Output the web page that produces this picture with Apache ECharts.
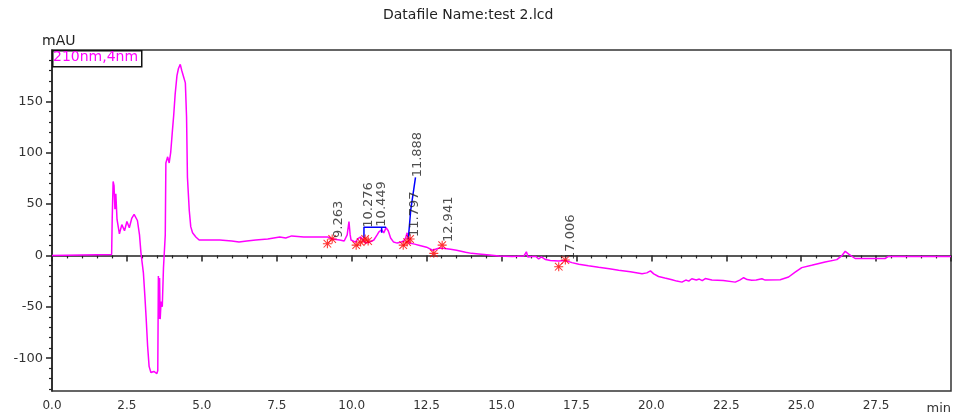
<!DOCTYPE html>
<html>
<head>
<meta charset="utf-8">
<title>Datafile Name:test 2.lcd</title>
<script src="https://cdn.jsdelivr.net/npm/echarts@6/dist/echarts.min.js"></script>
<style>
  html, body { margin: 0; padding: 0; background: #fff; }
  #chart { width: 956px; height: 419px; }
</style>
</head>
<body>
<div id="chart"></div>
<script>
// retention time (min) and detector signal (mAU)
const times = [
  0, 1.0, 1.99, 2.01, 2.04, 2.07, 2.1, 2.13, 2.17, 2.25, 2.33, 2.42, 2.5, 2.58, 2.66, 2.74, 2.85, 2.92, 2.97,
  3.05, 3.1, 3.14, 3.19, 3.24, 3.3, 3.4, 3.5, 3.53, 3.55, 3.57, 3.59, 3.61, 3.64, 3.68, 3.72, 3.78, 3.8,
  3.86, 3.91, 3.96, 4.02, 4.06, 4.11, 4.17, 4.22, 4.28, 4.33, 4.39, 4.45, 4.49, 4.52, 4.58, 4.63, 4.69,
  4.8, 4.91, 5.2, 5.6, 6.0, 6.24, 6.5, 6.8, 7.2, 7.6, 7.8, 8.0, 8.4, 8.8, 9.2, 9.35, 9.6, 9.75, 9.85,
  9.91, 9.95, 9.98, 10.13, 10.2, 10.3, 10.4, 10.47, 10.6, 10.74, 10.85, 10.91, 11.0, 11.07, 11.15, 11.22,
  11.3, 11.4, 11.52, 11.65, 11.74, 11.8, 11.85, 11.92, 12.1, 12.24, 12.5, 12.7, 12.9, 13.05, 13.3, 13.5,
  13.8, 14.0, 14.24, 14.6, 14.91, 15.35, 15.75, 15.83, 15.88, 16.0, 16.15, 16.24, 16.33, 16.47, 16.63,
  16.9, 17.13, 17.35, 17.58, 17.9, 18.24, 18.6, 18.91, 19.3, 19.69, 19.85, 19.97, 20.08, 20.24, 20.45,
  20.69, 20.85, 21.02, 21.15, 21.25, 21.35, 21.5, 21.6, 21.7, 21.8, 22.02, 22.4, 22.8, 22.95, 23.08,
  23.2, 23.35, 23.5, 23.69, 23.8, 24.3, 24.58, 24.8, 25.02, 25.35, 25.8, 26.19, 26.35, 26.47, 26.6,
  26.8, 27.8, 27.91, 29.58, 30
]
const signal = [
  0, 0.5, 1, 37, 72, 68, 45, 60, 35, 21, 30, 24, 33, 27, 36, 40, 34, 20, 2,
  -17, -40, -60, -88, -108, -114, -113, -115, -112, -20, -62, -22, -62, -45, -50, -12, 20, 90,
  96, 90, 100, 122, 136, 157, 175, 182, 186, 180, 174, 168, 135, 76, 44, 28, 22,
  18, 15, 15, 15, 14, 13, 14, 15, 16, 18, 17, 19, 18, 18, 18, 16, 15, 14, 20,
  33, 20, 15, 13, 16, 18, 14, 12, 13, 15, 20, 23, 25, 22, 27, 24,
  17, 13, 12, 13, 14, 17, 22, 12, 11, 10, 8, 5, 7, 7, 6, 5,
  3, 2, 1.5, 0.5, -0.5, -1, -0.5, 3.5, -1.5, -1, -1, -3.5, -1.5, -4, -5,
  -5.5, -5, -7, -8.5, -10, -11.5, -13, -14.5, -16, -17.8, -17, -15, -18, -20.5, -22,
  -23.6, -25, -26, -24, -25, -22.7, -24, -23, -24.5, -22.5, -24, -24.5, -26, -24, -21.7,
  -23.5, -24.2, -24, -22.7, -24, -23.6, -21, -16.2, -11.9, -9.6, -6.4, -4.1, -0.5, 4, 1,
  -3, -3, -1, -1, -1
]

// integrated peaks: retention times and the level where each label starts
const peakTimes = [9.263, 10.276, 10.449, 11.797, 11.888, 12.941, 17.006]
const peakLabelLevels = [17, 27, 28, 18, 76, 13, -4.5]

// peak start / end marks
const markTimes = [9.19, 9.35, 10.15, 10.3, 10.45, 10.55, 11.72, 11.85, 11.95, 12.74, 13.02, 16.91, 17.13]
const markLevels = [11.4, 16, 10, 13, 16, 14, 10, 13, 16, 2, 10, -11, -4.5]

// integration baselines drawn in blue
const baselineA = [[10.41, 17], [10.41, 27.5], [11.0, 27.5], [11.0, 22], [11.0, 27.5], [11.15, 27.5]]
const baselineB = [[11.89, 16], [11.97, 44], [12.08, 66], [12.13, 76]]

const yLabelValues = [-100, -50, 0, 50, 100, 150]
const yMinorValues = []
for (let v = -130; v <= 200; v += 10) {
  if (v % 50 !== 0) yMinorValues.push(v)
}

const FONT = 'DejaVu Sans'
const INK = '#222'
const LABEL_SIZE = 13

const asterisk = 'path://M0,4.4L10,4.4L10,5.6L0,5.6Z M4.4,0L5.6,0L5.6,10L4.4,10Z M0.4,1.2L1.2,0.4L9.6,8.8L8.8,9.6Z M8.8,0.4L9.6,1.2L1.2,9.6L0.4,8.8Z'

const chart = echarts.init(document.getElementById('chart'))

function peakLabelItems (shifts) {
  return peakTimes.map((t, i) => ({
    value: [t, peakLabelLevels[i]],
    label: { position: [shifts[i], 0] }
  }))
}

const option = {
  animation: false,
  backgroundColor: '#fff',
  grid: {
    left: 52, right: 5, top: 50, bottom: 28,
    show: true, borderColor: '#333', borderWidth: 1.5, backgroundColor: 'transparent'
  },
  xAxis: {
    type: 'value',
    min: 0,
    max: 30,
    interval: 2.5,
    axisLine: { show: true, lineStyle: { color: INK, width: 1.5 } },
    axisTick: { show: true, length: 6, lineStyle: { color: INK, width: 1.5 } },
    minorTick: { show: true, splitNumber: 5, length: 3, lineStyle: { color: INK, width: 1.2 } },
    axisLabel: {
      color: '#333', fontFamily: FONT, fontSize: 12, margin: 9,
      showMaxLabel: false,
      formatter: (v) => v.toFixed(1)
    },
    splitLine: { show: false }
  },
  yAxis: [
    {
      type: 'value',
      min: -132,
      max: 200,
      axisLine: { show: true, lineStyle: { color: INK, width: 1.5 } },
      axisTick: { show: true, length: 6, customValues: yLabelValues, lineStyle: { color: INK, width: 1.5 } },
      axisLabel: { customValues: yLabelValues, color: '#333', fontFamily: FONT, fontSize: 13, margin: 9 },
      splitLine: { show: false }
    },
    {
      type: 'value',
      min: -132,
      max: 200,
      position: 'left',
      axisLine: { show: false },
      axisTick: { show: true, length: 3, customValues: yMinorValues, lineStyle: { color: INK, width: 1.2 } },
      axisLabel: { show: false },
      splitLine: { show: false }
    }
  ],
  graphic: [
    {
      type: 'text', left: 383, top: 8,
      style: { text: 'Datafile Name:test 2.lcd', fill: INK, font: '14px "DejaVu Sans"' }
    },
    {
      type: 'text', left: 42, top: 34,
      style: { text: 'mAU', fill: INK, font: '14px "DejaVu Sans"' }
    },
    {
      type: 'rect', left: 52, top: 50, z: 10,
      shape: { width: 89, height: 16 },
      style: { fill: '#fff', stroke: '#111', lineWidth: 1.5 }
    },
    {
      type: 'text', left: 53, top: 50, z: 11,
      style: { text: '210nm,4nm', fill: '#ff00ff', font: '14px "DejaVu Sans"' }
    },
    {
      type: 'text', right: 5, top: 402,
      style: { text: 'min', fill: '#333', font: '13px "DejaVu Sans"' }
    }
  ],
  series: [
    {
      name: '210nm,4nm',
      type: 'line',
      data: times.map((t, i) => [t, signal[i]]),
      showSymbol: false,
      lineStyle: { color: '#ff00ff', width: 1.5 },
      z: 2
    },
    {
      type: 'line',
      data: baselineA,
      showSymbol: false,
      lineStyle: { color: '#0000ff', width: 1.5 },
      z: 3
    },
    {
      type: 'line',
      data: baselineB,
      showSymbol: false,
      lineStyle: { color: '#0000ff', width: 1.5 },
      z: 3
    },
    {
      type: 'scatter',
      data: markTimes.map((t, i) => [t, markLevels[i]]),
      symbol: asterisk,
      symbolSize: 9,
      itemStyle: { color: '#ff0000' },
      z: 4
    },
    {
      id: 'peakLabels',
      type: 'scatter',
      data: peakLabelItems(peakTimes.map(() => 9)),
      symbolSize: 0,
      label: {
        show: true,
        rotate: 90,
        align: 'left',
        verticalAlign: 'middle',
        color: INK,
        fontFamily: FONT,
        fontSize: LABEL_SIZE,
        formatter: (p) => peakTimes[p.dataIndex].toFixed(3)
      },
      z: 5
    }
  ]
}

chart.setOption(option)

// push rotated peak labels sideways when they would sit on top of each other
const pts = peakTimes.map((t, i) => chart.convertToPixel({ gridIndex: 0 }, [t, peakLabelLevels[i]]))
const labelLen = LABEL_SIZE * 3.6
const shifts = []
const placed = []
pts.forEach((p, i) => {
  let cx = p[0] + 9
  const bottom = p[1]
  const top = bottom - labelLen
  placed.forEach((q) => {
    const vOverlap = top < q.bottom && bottom > q.top
    if (vOverlap && Math.abs(cx - q.cx) < LABEL_SIZE) cx = q.cx + LABEL_SIZE
  })
  placed.push({ cx, top, bottom })
  shifts.push(cx - p[0])
})
chart.setOption({ series: [{ id: 'peakLabels', data: peakLabelItems(shifts) }] })
</script>
</body>
</html>
